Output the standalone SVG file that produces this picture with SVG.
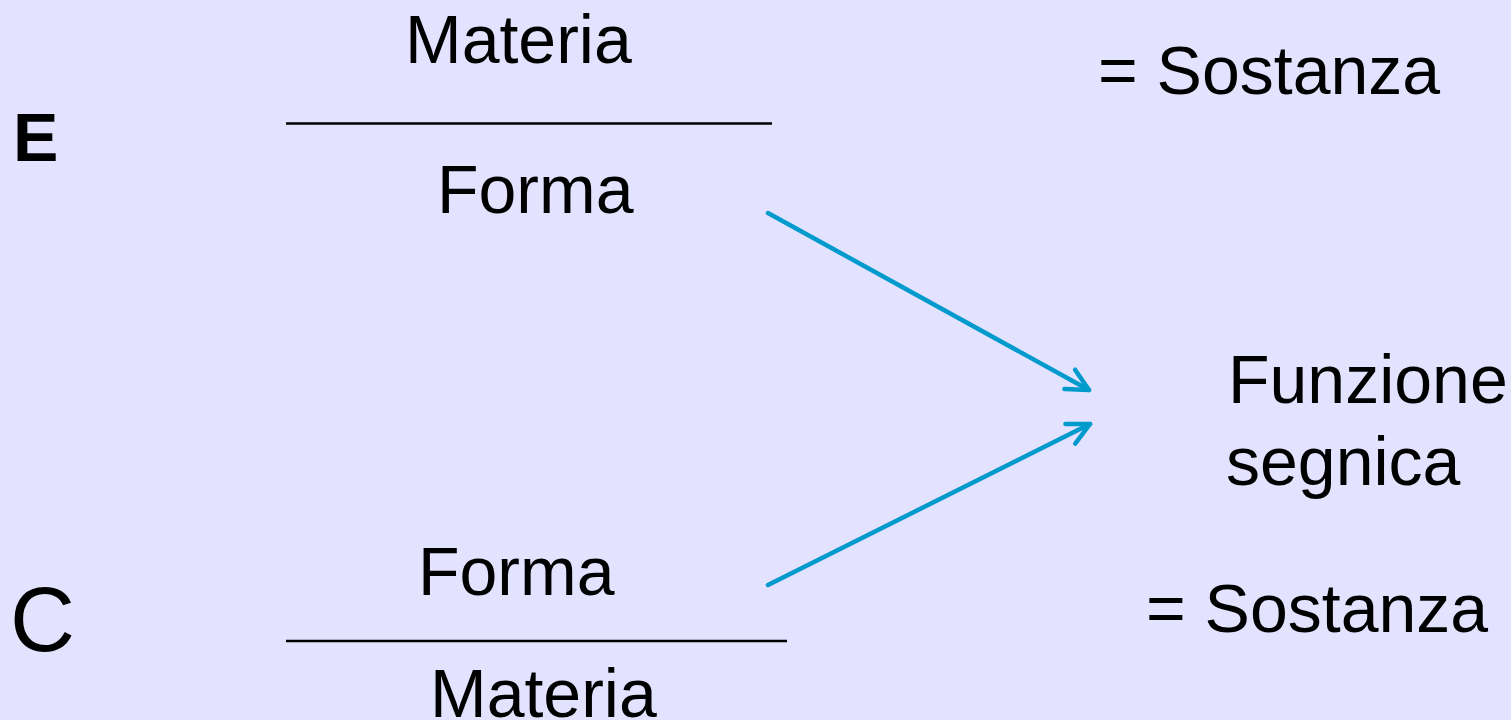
<svg xmlns="http://www.w3.org/2000/svg" width="1511" height="720" viewBox="0 0 1511 720">
<style>
text{font-family:"Liberation Sans",Arial,sans-serif;font-size:68px;fill:#000;}
.b{font-weight:bold;}
.big{font-size:90px;}
.rule{stroke:#000;stroke-width:2.5;}
.arr{stroke:#009ACD;stroke-width:4.5;stroke-linecap:round;fill:none;marker-end:url(#ah);}
</style>
<defs>
<marker id="ah" markerUnits="userSpaceOnUse" markerWidth="40" markerHeight="40" viewBox="-30 -20 40 40" refX="0" refY="0" orient="auto">
<path d="M-22,-11 L0,0 L-22,11" fill="none" stroke="#009ACD" stroke-width="4.5" stroke-linecap="round" stroke-linejoin="round"/>
</marker>
</defs>
<rect width="1511" height="720" fill="#E3E3FF"/>
<g id="E-label"><text class="b" x="13" y="161">E</text></g>
<g id="E-fraction">
<text x="405" y="63">Materia</text>
<line class="rule" x1="286" y1="123.5" x2="772" y2="123.5"/>
<text x="437" y="213">Forma</text>
</g>
<g id="E-sostanza"><text x="1098" y="94">= Sostanza</text></g>
<g id="C-label"><text class="big" x="10" y="651">C</text></g>
<g id="C-fraction">
<text x="418" y="595">Forma</text>
<line class="rule" x1="286" y1="641" x2="787" y2="641"/>
<text x="430" y="717">Materia</text>
</g>
<g id="C-sostanza"><text x="1146" y="632">= Sostanza</text></g>
<g id="funzione">
<text x="1228" y="403">Funzione</text>
<text x="1226" y="485">segnica</text>
</g>
<g id="connectors">
<line class="arr" x1="768" y1="213" x2="1089" y2="390"/>
<line class="arr" x1="768" y1="585" x2="1090" y2="424"/>
</g>
</svg>
